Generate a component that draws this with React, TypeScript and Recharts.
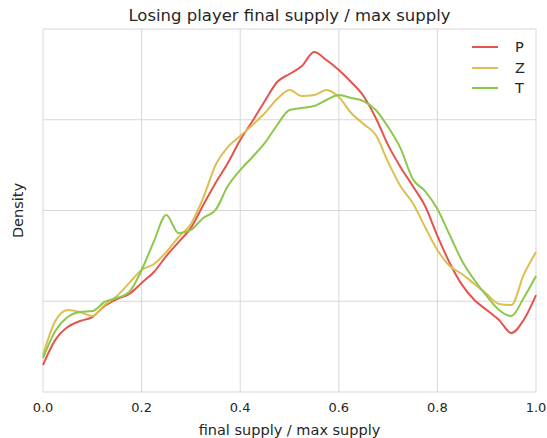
import { LineChart, Line, XAxis, YAxis, CartesianGrid } from "recharts";

// x positions (final supply / max supply), step 0.025
const xs = [
  0, 0.025, 0.05, 0.075, 0.1, 0.125, 0.15, 0.175, 0.2, 0.225, 0.25, 0.275, 0.3, 0.325, 0.35, 0.375, 0.4,
  0.425, 0.45, 0.475, 0.5, 0.525, 0.55, 0.575, 0.6, 0.625, 0.65, 0.675, 0.7, 0.725, 0.75, 0.775, 0.8,
  0.825, 0.85, 0.875, 0.9, 0.925, 0.95, 0.975, 1,
];

const pDensity = [
  0.149, 0.287, 0.358, 0.391, 0.413, 0.474, 0.512, 0.54, 0.601, 0.661, 0.749, 0.826, 0.904, 1.03, 1.152,
  1.262, 1.388, 1.493, 1.603, 1.708, 1.752, 1.796, 1.873, 1.829, 1.774, 1.708, 1.631, 1.510, 1.36, 1.24,
  1.135, 1.025, 0.860, 0.711, 0.59, 0.507, 0.452, 0.397, 0.325, 0.397, 0.534,
];

const zDensity = [
  0.204, 0.391, 0.452, 0.441, 0.419, 0.479, 0.529, 0.601, 0.672, 0.705, 0.771, 0.854, 0.926, 1.069, 1.251,
  1.35, 1.41, 1.471, 1.537, 1.614, 1.664, 1.631, 1.636, 1.664, 1.625, 1.537, 1.477, 1.416, 1.267, 1.135,
  1.041, 0.909, 0.782, 0.694, 0.65, 0.595, 0.54, 0.485, 0.479, 0.645, 0.771,
];

const tDensity = [
  0.187, 0.336, 0.413, 0.441, 0.446, 0.496, 0.518, 0.551, 0.672, 0.83, 0.975, 0.875, 0.893, 0.959, 1.003,
  1.135, 1.223, 1.295, 1.372, 1.471, 1.554, 1.565, 1.576, 1.609, 1.636, 1.62, 1.603, 1.554, 1.46, 1.344,
  1.174, 1.107, 1.008, 0.865, 0.722, 0.617, 0.529, 0.452, 0.419, 0.518, 0.639,
];

const xTicks = [0, 0.2, 0.4, 0.6, 0.8, 1];
const yTicks = [0, 0.5, 1, 1.5, 2];

const series = [
  { key: "P", color: "#e5534d" },
  { key: "Z", color: "#dcbf52" },
  { key: "T", color: "#8cc84b" },
];

const data = xs.map((x, i) => ({ x, P: pDensity[i], Z: zDensity[i], T: tDensity[i] }));

const FONT = "'DejaVu Sans', sans-serif";
const TEXT = "#262626";

export default function App() {
  return (
    <div style={{ position: "absolute", left: 0, top: 0, width: 547, height: 438, background: "#fff" }}>
      <div
        style={{
          position: "absolute",
          top: 6,
          left: 43,
          width: 493,
          textAlign: "center",
          fontFamily: FONT,
          fontSize: 16.5,
          color: TEXT,
          lineHeight: "20px",
        }}
      >
        Losing player final supply / max supply
      </div>
      <LineChart
        width={547}
        height={438}
        data={data}
        margin={{ top: 29, right: 11, bottom: 0, left: 0 }}
        style={{ fontFamily: FONT }}
      >
        <CartesianGrid stroke="#d7d7d7" strokeWidth={1} />
        <XAxis
          dataKey="x"
          type="number"
          domain={[0, 1]}
          ticks={xTicks}
          tickFormatter={(v) => v.toFixed(1)}
          axisLine={false}
          tickLine={false}
          tickMargin={5}
          height={46}
          tick={{ fill: TEXT, fontSize: 13 }}
          label={{ value: "final supply / max supply", position: "insideBottom", offset: 3, fill: TEXT, fontSize: 14.5 }}
        />
        <YAxis
          type="number"
          domain={[0, 2]}
          ticks={yTicks}
          tickFormatter={() => ""}
          axisLine={false}
          tickLine={false}
          width={43}
          label={{ value: "Density", angle: -90, position: "center", dx: -4, fill: TEXT, fontSize: 14.5 }}
        />
        {series.map((s) => (
          <Line
            key={s.key}
            type="monotone"
            dataKey={s.key}
            stroke={s.color}
            strokeWidth={2}
            dot={false}
            isAnimationActive={false}
          />
        ))}
      </LineChart>
      {/* legend */}
      <div style={{ position: "absolute", top: 37, left: 472, fontFamily: FONT, fontSize: 14.5, color: TEXT }}>
        {series.map((s) => (
          <div key={s.key} style={{ display: "flex", alignItems: "center", height: 20.5 }}>
            <svg width={26} height={4} style={{ marginRight: 17 }}>
              <line x1={0} y1={2} x2={26} y2={2} stroke={s.color} strokeWidth={2} />
            </svg>
            <span>{s.key}</span>
          </div>
        ))}
      </div>
    </div>
  );
}
